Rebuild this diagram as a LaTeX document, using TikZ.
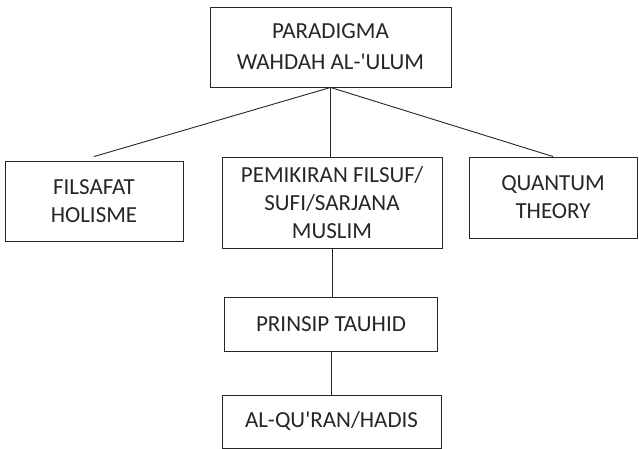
\documentclass[tikz,border=0pt]{standalone}
\usepackage{fontspec}
\setmainfont{Carlito}
\begin{document}
\begin{tikzpicture}[x=1pt,y=-1pt,
  box/.style={draw=black!85, line width=0.9pt, inner sep=0pt, align=center,
    text=black!85, font=\fontsize{23}{28}\selectfont},
  link/.style={draw=black!85, line width=0.9pt}]
\useasboundingbox (0,0) rectangle (639,449);
\node[box, minimum width=241, minimum height=80, font=\fontsize{23}{31}\selectfont] (top) at (330.5,47) {PARADIGMA\\WAHDAH AL-\textquotesingle ULUM};
\node[box, minimum width=178, minimum height=80] (left) at (94,201) {FILSAFAT\\HOLISME};
\node[box, minimum width=220, minimum height=91] (mid) at (332,202.5) {PEMIKIRAN FILSUF/\\SUFI/SARJANA\\MUSLIM};
\node[box, minimum width=168, minimum height=81] (right) at (553,197.5) {QUANTUM\\THEORY};
\node[box, minimum width=213, minimum height=54] (tauhid) at (331,324) {PRINSIP TAUHID};
\node[box, minimum width=219, minimum height=53] (quran) at (331.5,421.5) {AL-QU\textquotesingle RAN/HADIS};
\draw[link] (top.south) -- ([yshift=4pt]left.north);
\draw[link] (top.south) -- (right.north);
\draw[link] (top.south) -- (top.south |- mid.north);
\draw[link] (mid.south) -- (mid.south |- tauhid.north);
\draw[link] (tauhid.south) -- (tauhid.south |- quran.north);
\end{tikzpicture}
\end{document}
